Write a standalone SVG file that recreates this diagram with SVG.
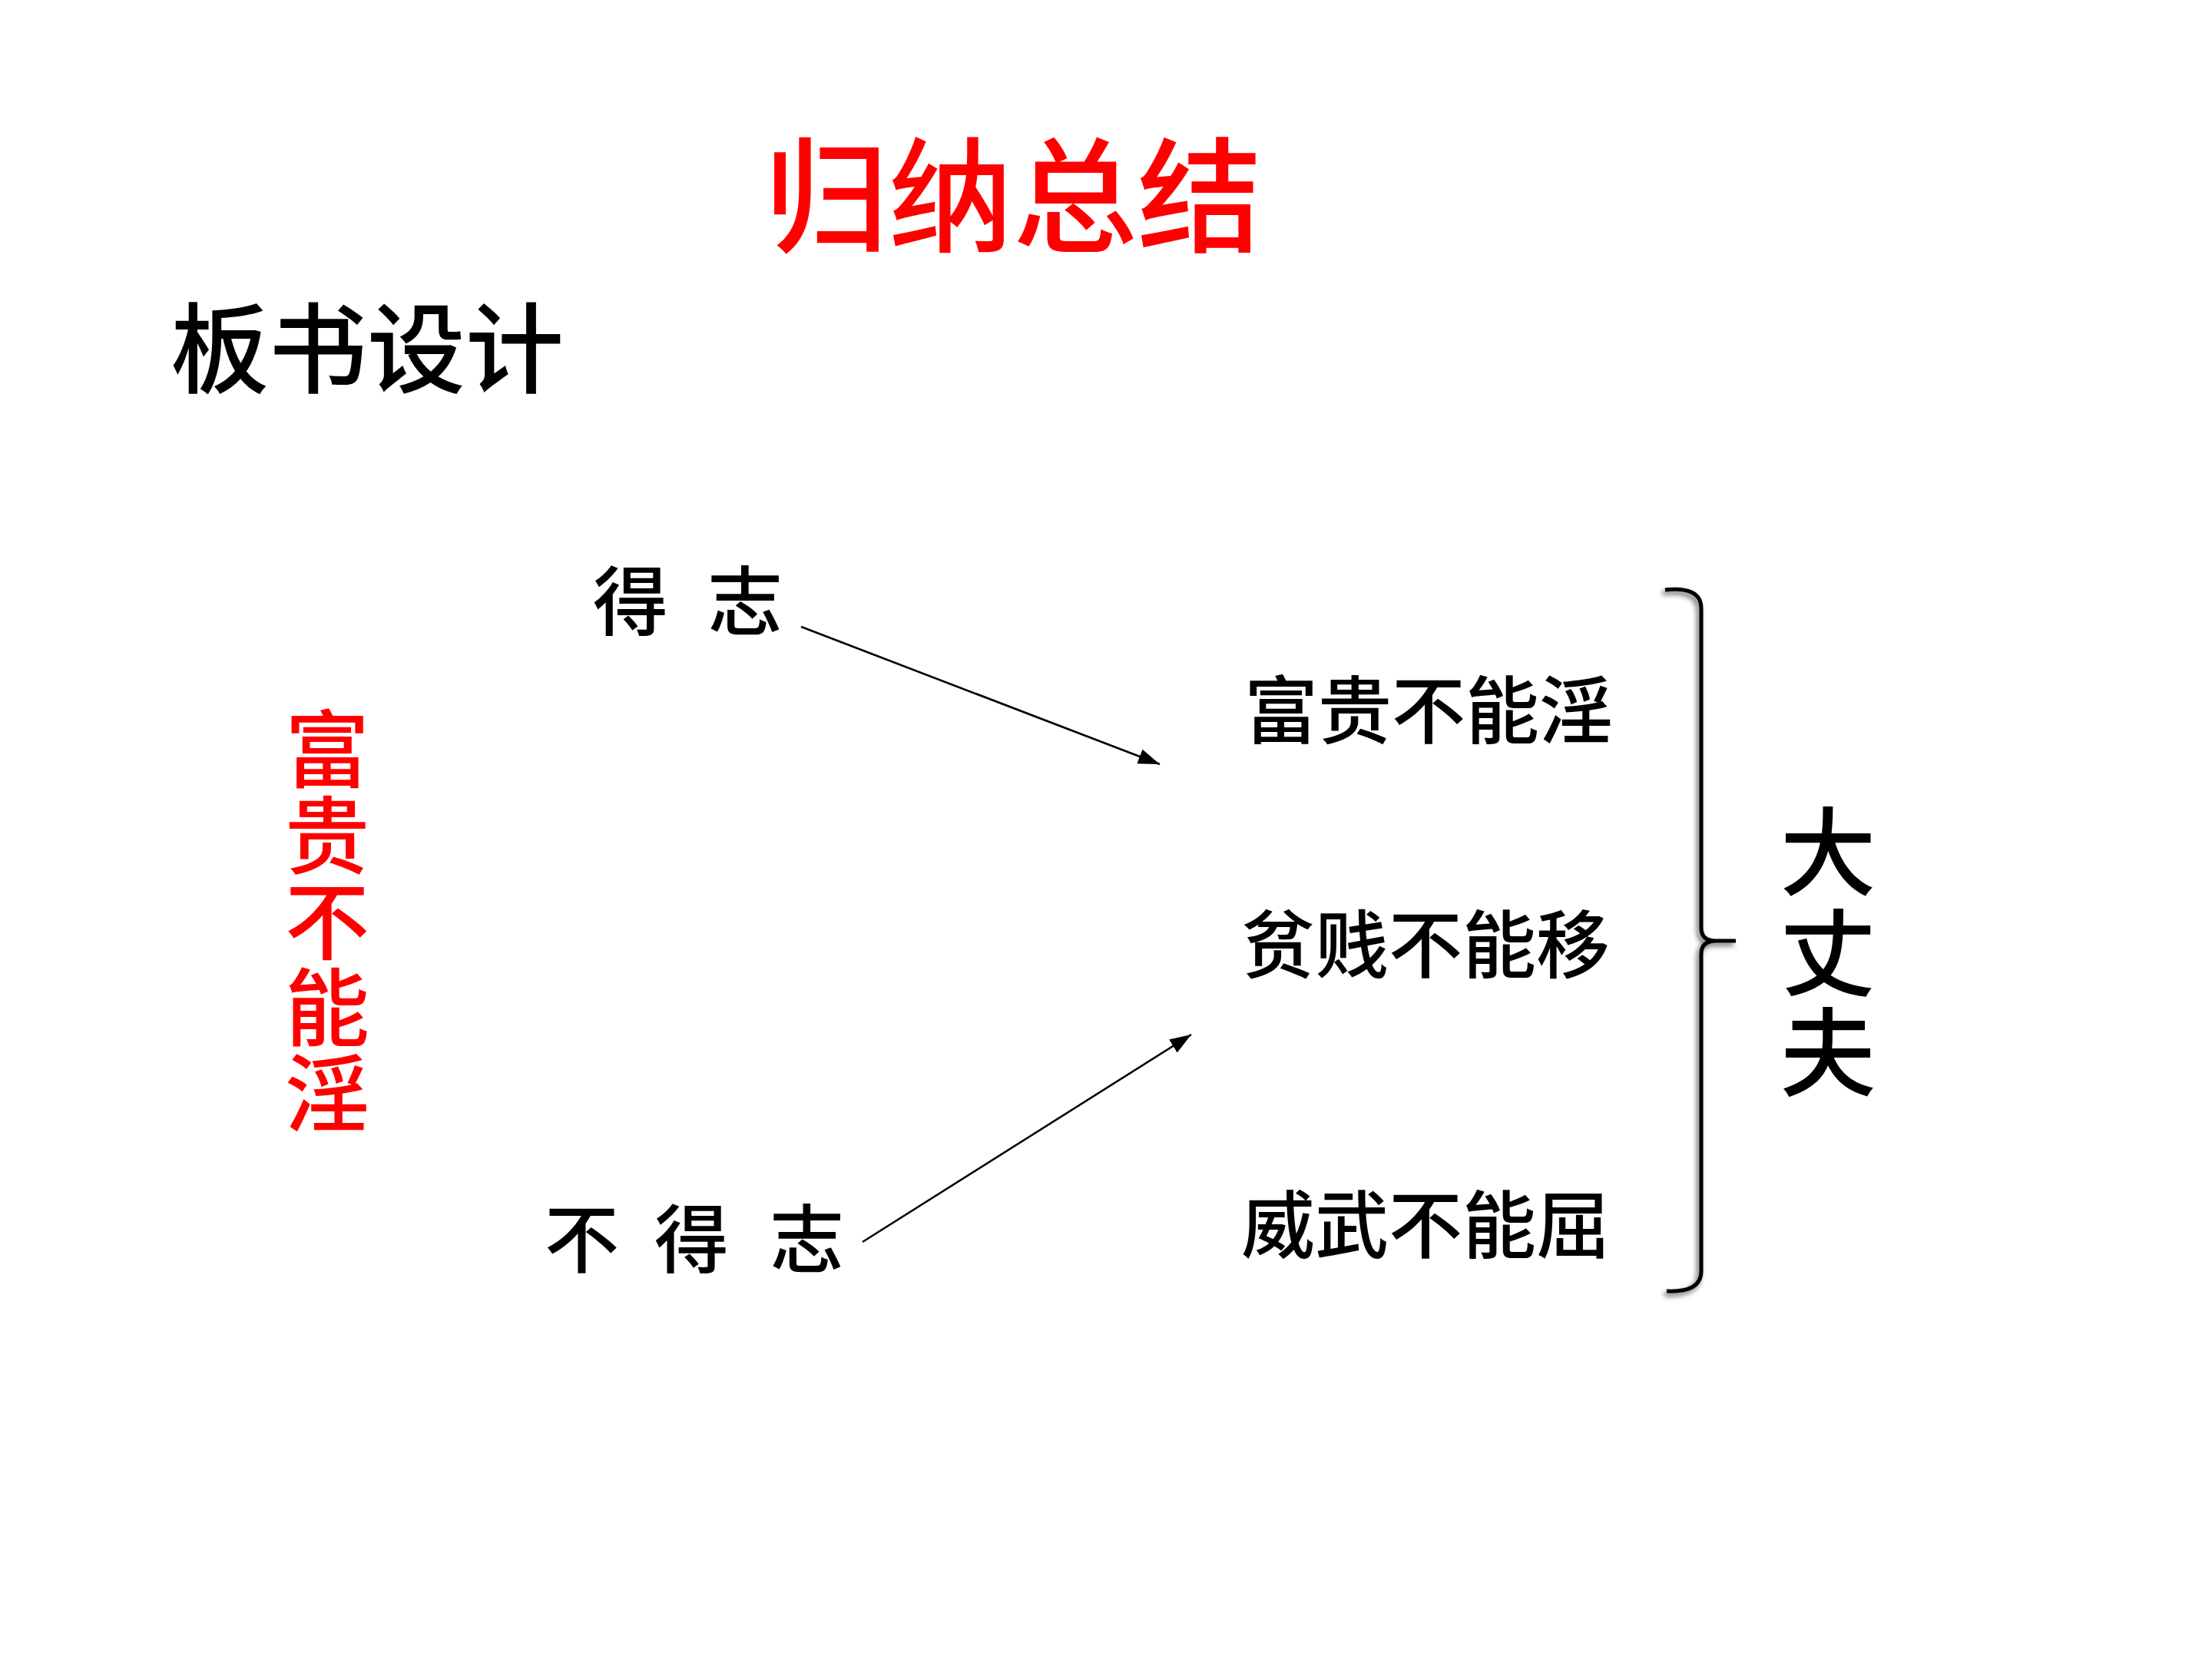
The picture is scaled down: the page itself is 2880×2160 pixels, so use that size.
<svg xmlns="http://www.w3.org/2000/svg" width="2880" height="2160" viewBox="0 0 2880 2160">
<defs>
<style>
.cjk{font-family:"Noto Sans CJK SC","Noto Sans CJK TC",sans-serif;font-weight:500;}
.red{fill:#ff0000;}
.blk{fill:#000000;}
.conn{stroke:#000;stroke-width:2.6;fill:none;}
</style>
<marker id="arr" markerUnits="userSpaceOnUse" markerWidth="32" markerHeight="22" refX="28" refY="10" orient="auto">
<path d="M0,0 L28,10 L0,20 Z" fill="#000"/>
</marker>
<filter id="sh" x="-50%" y="-10%" width="200%" height="120%">
<feGaussianBlur stdDeviation="3"/>
</filter>
</defs>
<rect width="2880" height="2160" fill="#ffffff"/>

<g id="title">
<text class="cjk red" x="1319" y="316" font-size="162" font-weight="600" text-anchor="middle">归纳总结</text>
</g>
<g id="subtitle">
<text class="cjk blk" x="222" y="502" font-size="128">板书设计</text>
</g>
<g id="side-red">
<text class="cjk red" font-size="110" text-anchor="middle" x="426 426 426 426 426" y="1017 1129 1241 1353 1465">富贵不能淫</text>
</g>
<g id="dezhi">
<text class="cjk blk" font-size="98" x="772 921" y="819">得志</text>
</g>
<g id="budezhi">
<text class="cjk blk" font-size="97" x="709 852 1002" y="1649">不得志</text>
</g>
<g id="line1">
<text class="cjk blk" font-size="96" x="1620" y="960">富贵不能淫</text>
</g>
<g id="line2">
<text class="cjk blk" font-size="96" x="1616" y="1265">贫贱不能移</text>
</g>
<g id="line3">
<text class="cjk blk" font-size="96" x="1616" y="1630">威武不能屈</text>
</g>
<g id="dazhangfu">
<text class="cjk blk" font-size="125" text-anchor="middle" x="2380 2380 2380" y="1156 1287 1417">大丈夫</text>
</g>
<g id="bracket">
<path d="M2168,768 Q2215,763 2215,792 L2215,1208 Q2215,1225 2234,1225 L2260,1225 M2234,1225 Q2215,1225 2215,1242 L2215,1655 Q2215,1683 2170,1681" stroke="#777" stroke-width="6" fill="none" filter="url(#sh)" transform="translate(-3,4)"/>
<path d="M2168,768 Q2215,763 2215,792 L2215,1208 Q2215,1225 2234,1225 L2260,1225 M2234,1225 Q2215,1225 2215,1242 L2215,1655 Q2215,1683 2170,1681" stroke="#000" stroke-width="5" fill="none"/>
</g>
<g id="connectors">
<line class="conn" x1="1043" y1="816" x2="1510" y2="995" marker-end="url(#arr)"/>
<line class="conn" x1="1123" y1="1617" x2="1551" y2="1347" marker-end="url(#arr)"/>
</g>
</svg>
